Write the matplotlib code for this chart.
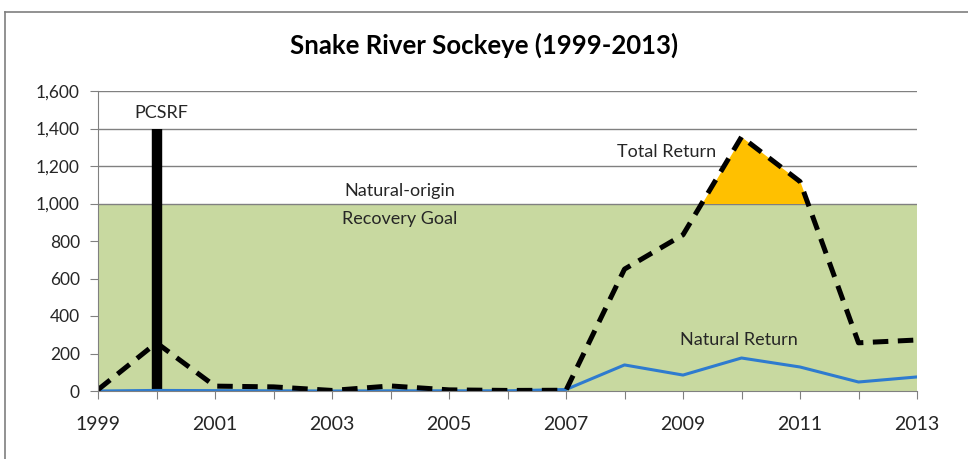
import matplotlib
matplotlib.use("Agg")
import matplotlib.pyplot as plt
import numpy as np

years = [1999, 2000, 2001, 2002, 2003, 2004, 2005, 2006, 2007, 2008, 2009, 2010, 2011, 2012, 2013]
total_return = [7, 257, 26, 22, 3, 27, 6, 3, 4, 650, 833, 1355, 1117, 257, 272]
natural_return = [0, 3, 2, 1, 0, 1, 1, 1, 8, 139, 85, 176, 128, 48, 75]
recovery_goal = 1000
pcsrf_year = 2000
pcsrf_height = 1400
xtick_years = [1999, 2001, 2003, 2005, 2007, 2009, 2011, 2013]
yticks = [0, 200, 400, 600, 800, 1000, 1200, 1400, 1600]

plt.rcParams['font.family'] = ['Lato', 'DejaVu Sans']

W, H = 968, 459
fig = plt.figure(figsize=(W / 100, H / 100), dpi=100)
fig.patch.set_facecolor('white')

# outer border
fig.add_artist(plt.Line2D([5 / W, 5 / W], [0, 1 - 12 / H], color='#7f7f7f', lw=1.2, transform=fig.transFigure))
fig.add_artist(plt.Line2D([5 / W, 1], [1 - 12 / H, 1 - 12 / H], color='#7f7f7f', lw=1.2, transform=fig.transFigure))

ax = fig.add_axes([98 / W, 1 - 391 / H, (917 - 98) / W, (391 - 91) / H])
ax.set_xlim(1999, 2013)
ax.set_ylim(0, 1600)

grid_c = '#808080'
for y in [1200, 1400, 1600]:
    ax.axhline(y, color=grid_c, lw=1.0, zorder=1)

# recovery goal region
ax.fill_between([1999, 2013], 0, recovery_goal, color='#c8d9a0', zorder=2, lw=0)
ax.axhline(recovery_goal, color=grid_c, lw=1.0, zorder=2.5)

# orange above goal
t = np.array(total_return, dtype=float)
ax.fill_between(years, recovery_goal, t, where=t > recovery_goal, interpolate=True,
                color='#ffc000', zorder=3, lw=0)

# PCSRF bar
ax.plot([pcsrf_year, pcsrf_year], [0, pcsrf_height], color='black', lw=7.5,
        solid_capstyle='butt', zorder=4)

ax.plot(years, natural_return, color='#2e7bcf', lw=2.2, zorder=5)
ax.plot(years, total_return, color='black', lw=3.6, dashes=(3.1, 1.9), zorder=6,
        dash_capstyle='butt')

ann = dict(fontsize=13, color='#262626', ha='center', va='center')
ax.text(2000.08, 1480, 'PCSRF', **ann)
ax.text(2008.72, 1275, 'Total Return', **ann)
ax.text(2004.15, 1065, 'Natural-origin', **ann)
ax.text(2004.15, 915, 'Recovery Goal', **ann)
ax.text(2009.95, 270, 'Natural Return', **ann)

ax.set_xticks(years)
ax.set_xticklabels([str(y) if y in xtick_years else '' for y in years])
ax.set_yticks(yticks)
ax.set_yticklabels([f'{v:,}' for v in yticks])
ax.tick_params(axis='both', direction='out', length=6, color=grid_c, labelcolor='#262626')
ax.tick_params(axis='x', pad=12, labelsize=14)
ax.tick_params(axis='y', pad=7, labelsize=12.5)

for s in ['top', 'right']:
    ax.spines[s].set_visible(False)
ax.spines['left'].set_color(grid_c)
ax.spines['bottom'].set_color(grid_c)
ax.spines['left'].set_zorder(7)
ax.spines['bottom'].set_zorder(7)

fig.text(484 / W, 1 - 45 / H, 'Snake River Sockeye (1999-2013)', ha='center', va='center',
         fontsize=18.5, fontweight='bold', color='black')

fig.savefig('out.png', dpi=100)
